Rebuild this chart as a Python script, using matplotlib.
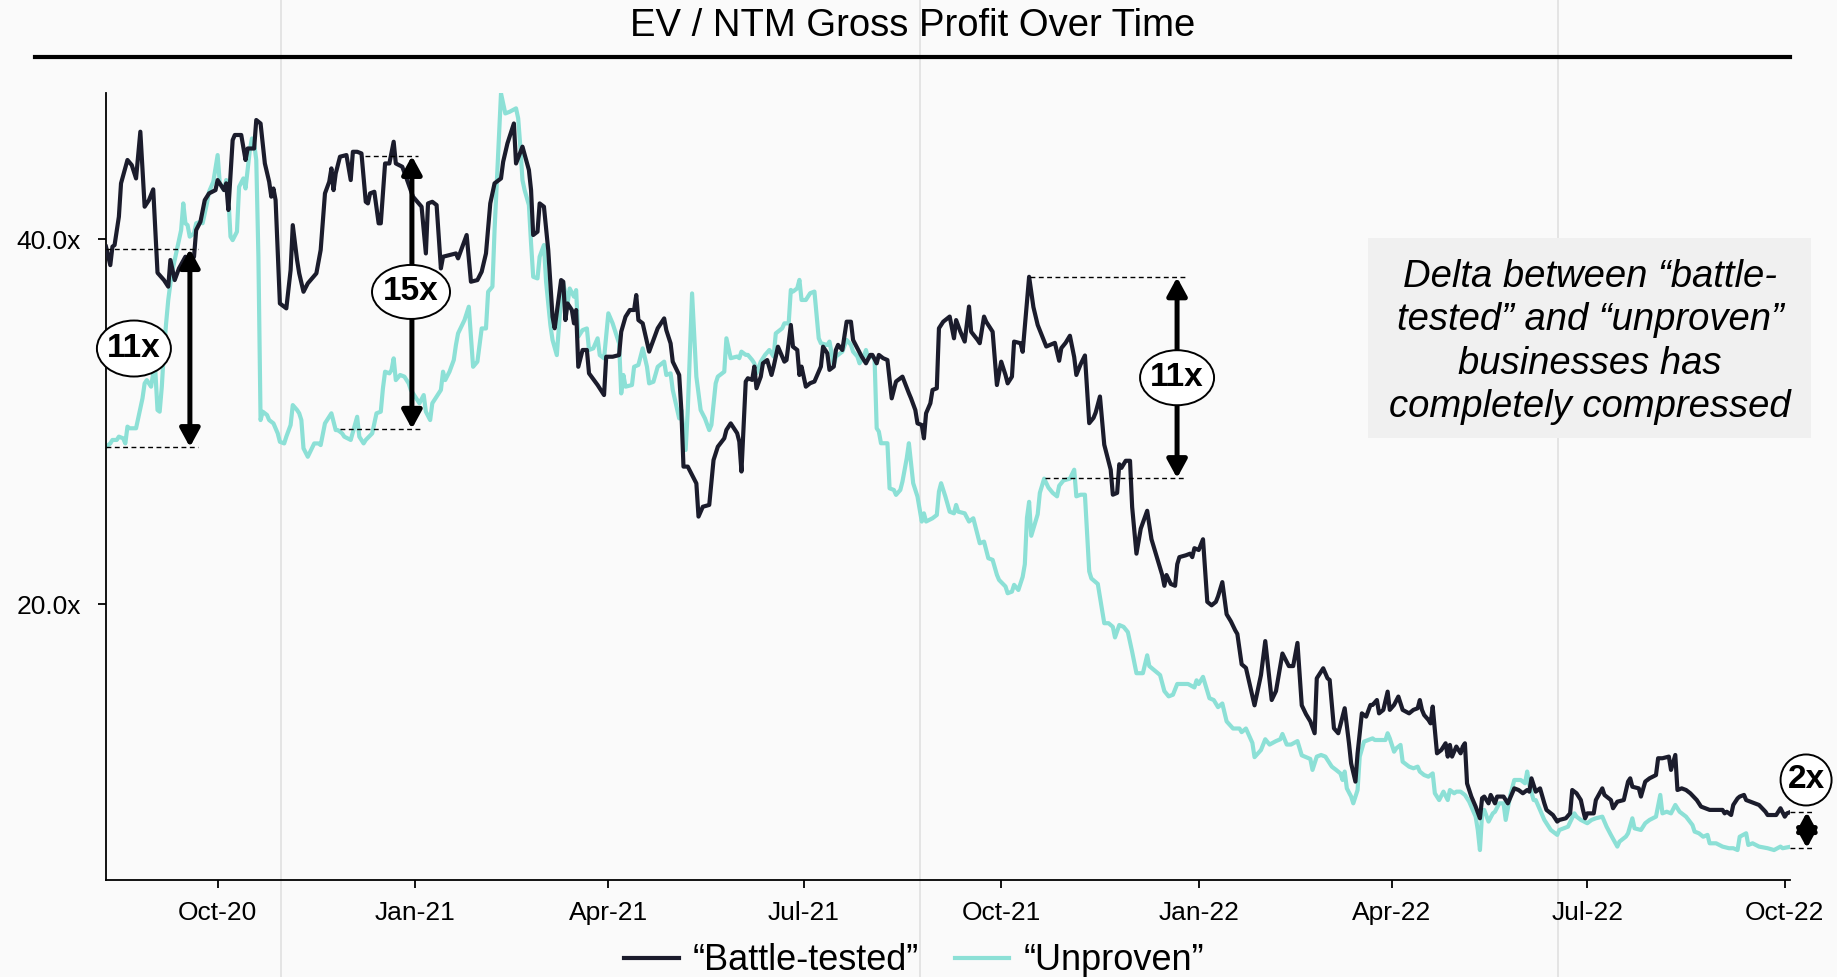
import matplotlib
matplotlib.use('Agg')
import matplotlib.pyplot as plt
import matplotlib.dates as mdates
import matplotlib.transforms as mtransforms
from matplotlib.lines import Line2D
from matplotlib.patches import Ellipse, Rectangle
from matplotlib.ticker import FuncFormatter
import numpy as np

plt.rcParams['font.family'] = ['Liberation Sans', 'DejaVu Sans']

# day offsets are counted from this date
start_date = np.datetime64('2020-08-10')

battle_days = [0, 2, 3, 4, 6, 7, 10, 12, 14, 16, 18, 20, 22, 24, 27, 29, 30, 32, 34, 37, 39, 41, 42, 44, 46, 48, 51,
               52, 55, 56, 57, 59, 60, 63, 65, 66, 69, 70, 72, 74, 76, 77, 78, 79, 81, 84, 86, 87, 89, 90, 92, 94,
               98, 100, 102, 104, 105, 106, 107, 109, 112, 114, 115, 117, 119, 121, 122, 123, 125, 127, 128, 130,
               132, 134, 135, 138, 140, 143, 147, 149, 150, 152, 154, 156, 157, 160, 163, 164, 168, 170, 173, 175,
               177, 179, 181, 184, 185, 187, 190, 191, 194, 197, 198, 199, 201, 202, 204, 206, 208, 209, 212, 213,
               214, 215, 217, 218, 219, 220, 222, 224, 225, 229, 232, 233, 236, 239, 240, 242, 244, 246, 247, 248,
               250, 253, 255, 257, 260, 261, 263, 264, 267, 268, 269, 271, 273, 275, 276, 278, 281, 283, 285, 288,
               289, 291, 294, 295, 296, 298, 299, 301, 302, 303, 305, 306, 308, 310, 311, 313, 316, 317, 319, 320,
               322, 323, 324, 326, 328, 330, 333, 334, 336, 337, 339, 340, 341, 343, 345, 347, 348, 350, 352, 354,
               356, 357, 359, 360, 362, 364, 366, 368, 371, 374, 375, 377, 378, 380, 381, 382, 384, 385, 387, 388,
               390, 393, 395, 396, 398, 400, 402, 403, 406, 407, 409, 410, 413, 415, 417, 419, 420, 422, 423, 426,
               427, 430, 432, 434, 436, 438, 440, 442, 444, 445, 447, 449, 451, 452, 454, 456, 458, 460, 461, 463,
               465, 468, 469, 471, 472, 473, 475, 477, 478, 480, 482, 485, 487, 489, 491, 492, 493, 494, 496, 498,
               499, 500, 503, 505, 506, 507, 509, 511, 513, 515, 517, 518, 520, 522, 524, 526, 527, 529, 531, 535,
               538, 540, 543, 545, 548, 551, 553, 555, 557, 559, 561, 563, 564, 567, 569, 570, 572, 574, 577, 579,
               580, 582, 583, 585, 587, 589, 590, 592, 593, 595, 597, 598, 600, 602, 604, 607, 609, 611, 612, 613,
               614, 616, 617, 618, 620, 622, 624, 625, 626, 627, 629, 631, 632, 633, 634, 636, 638, 640, 641, 642,
               644, 645, 647, 648, 651, 653, 656, 658, 660, 662, 663, 664, 666, 668, 670, 671, 674, 676, 677, 680,
               682, 683, 685, 687, 688, 689, 690, 693, 694, 697, 698, 701, 702, 704, 707, 709, 710, 711, 714, 715,
               717, 719, 722, 723, 725, 728, 729, 731, 732, 734, 736, 738, 741, 743, 745, 747, 750, 753, 754, 755,
               757, 758, 760, 761, 763, 764, 766, 768, 770, 773, 774, 777, 778, 780, 782, 783, 785]
battle_vals = [39.58, 38.57, 39.58, 39.67, 41.22, 43.05, 44.33, 44.05, 43.32, 45.88, 41.77, 42.13, 42.72, 38.15,
               37.75, 37.39, 38.85, 37.75, 38.39, 39.03, 38.66, 39.03, 40.49, 40.95, 42.13, 42.50, 42.68, 43.23,
               42.68, 43.05, 41.59, 45.42, 45.70, 45.70, 44.33, 44.96, 44.96, 46.52, 46.33, 44.14, 43.14, 42.32,
               42.77, 42.13, 36.47, 36.20, 38.30, 40.76, 38.85, 38.12, 37.11, 37.57, 38.12, 39.40, 42.50, 43.14,
               43.87, 42.68, 43.59, 44.51, 44.60, 43.23, 44.78, 44.78, 44.69, 42.04, 41.95, 42.50, 42.59, 40.86,
               40.86, 44.14, 44.14, 45.33, 44.14, 43.96, 43.32, 42.32, 41.77, 39.21, 41.95, 42.04, 41.86, 38.39,
               39.03, 39.12, 39.21, 38.94, 40.22, 37.66, 37.75, 38.21, 39.21, 41.95, 43.05, 43.32, 44.23, 45.24,
               46.33, 44.14, 45.06, 43.78, 42.68, 40.22, 40.40, 41.95, 41.77, 39.40, 35.74, 35.11, 37.75, 37.66,
               35.56, 36.47, 36.11, 35.38, 36.11, 33.00, 33.92, 33.92, 32.64, 32.00, 31.45, 33.55, 33.55, 33.64,
               34.92, 35.74, 36.11, 36.11, 36.93, 35.56, 35.38, 33.83, 34.47, 35.11, 35.65, 35.01, 34.28, 33.28,
               32.55, 30.63, 27.53, 27.53, 27.07, 26.61, 24.79, 25.33, 25.43, 27.89, 28.62, 29.08, 29.54, 29.90,
               29.36, 28.90, 27.26, 32.19, 32.37, 32.28, 33.01, 31.82, 32.46, 33.19, 33.37, 32.55, 33.01, 34.10,
               33.28, 33.37, 35.29, 34.10, 33.92, 32.55, 33.01, 31.91, 32.10, 32.19, 33.01, 34.10, 33.74, 32.83,
               33.01, 33.92, 34.20, 33.92, 35.47, 35.47, 34.47, 34.01, 33.56, 33.19, 33.65, 33.65, 33.19, 33.65,
               33.47, 33.37, 31.27, 32.19, 32.46, 31.55, 31.27, 30.63, 29.90, 29.81, 29.08, 30.45, 31.00, 31.73,
               31.82, 35.11, 35.47, 35.75, 34.56, 35.56, 34.92, 34.38, 36.30, 34.92, 34.47, 34.29, 35.75, 35.47,
               34.92, 32.00, 33.28, 32.55, 32.09, 32.46, 34.38, 34.29, 33.82, 37.93, 36.27, 35.29, 34.70, 34.11,
               34.21, 34.31, 33.33, 34.02, 34.31, 34.70, 33.53, 32.55, 33.14, 33.62, 29.91, 30.20, 30.49, 31.37,
               28.73, 27.36, 25.99, 26.09, 27.66, 27.46, 27.85, 27.85, 25.31, 22.76, 24.13, 25.11, 23.55, 22.76,
               21.98, 21.59, 21.00, 21.59, 21.10, 21.00, 22.18, 22.57, 22.67, 22.76, 22.57, 23.06, 22.96, 23.55,
               20.12, 19.93, 20.12, 20.42, 21.20, 19.44, 19.05, 18.56, 18.36, 16.70, 16.50, 14.45, 16.11, 17.97,
               14.74, 15.23, 17.29, 16.60, 16.60, 17.87, 14.45, 13.96, 13.57, 12.92, 15.93, 16.48, 15.93, 15.84,
               13.19, 12.92, 14.29, 12.37, 11.27, 10.27, 11.82, 14.01, 13.83, 14.47, 14.47, 14.74, 14.01, 14.20,
               15.20, 14.20, 14.47, 14.93, 14.20, 14.01, 14.20, 14.29, 14.74, 14.20, 13.92, 13.65, 13.46, 14.38,
               11.82, 12.00, 12.37, 11.64, 12.28, 11.64, 12.19, 11.82, 12.19, 12.37, 10.17, 9.45, 8.90, 8.26, 9.36,
               9.45, 9.08, 9.54, 9.08, 9.45, 9.45, 9.08, 9.90, 9.81, 9.63, 9.81, 9.72, 10.45, 9.72, 9.90, 9.08,
               8.72, 8.44, 8.08, 8.17, 8.26, 8.53, 9.81, 9.63, 9.26, 8.72, 8.26, 8.53, 8.53, 9.26, 9.90, 9.54, 9.26,
               8.81, 9.17, 9.26, 10.27, 10.45, 9.99, 9.90, 9.45, 10.27, 10.45, 10.63, 11.55, 11.55, 11.64, 10.91,
               11.73, 9.81, 9.90, 9.81, 9.63, 9.26, 8.90, 8.81, 8.72, 8.72, 8.72, 8.53, 8.62, 8.44, 8.99, 9.35,
               9.45, 9.54, 9.26, 9.17, 9.08, 8.99, 8.62, 8.44, 8.44, 8.44, 8.81, 8.35, 8.53, 8.62]

unproven_days = [0, 2, 3, 5, 6, 8, 9, 10, 11, 14, 15, 17, 18, 19, 21, 22, 23, 24, 25, 26, 27, 28, 29, 30, 31, 33, 35,
                 36, 37, 38, 39, 41, 42, 44, 45, 47, 48, 50, 51, 52, 53, 55, 56, 57, 58, 59, 61, 62, 64, 65, 67, 68,
                 69, 70, 71, 72, 73, 75, 76, 78, 80, 81, 83, 84, 86, 87, 89, 90, 91, 92, 94, 97, 99, 100, 102, 104,
                 105, 107, 108, 110, 111, 114, 117, 118, 120, 121, 124, 126, 128, 129, 130, 132, 133, 134, 135, 137,
                 139, 141, 142, 144, 146, 148, 149, 151, 152, 154, 156, 157, 158, 160, 162, 163, 164, 167, 169, 171,
                 173, 175, 177, 178, 180, 181, 183, 184, 186, 188, 191, 192, 193, 194, 195, 197, 198, 199, 201, 202,
                 204, 205, 207, 208, 210, 212, 213, 215, 216, 218, 219, 220, 222, 224, 225, 227, 229, 230, 232, 234,
                 236, 239, 240, 241, 242, 245, 246, 248, 250, 252, 253, 255, 257, 260, 261, 263, 264, 267, 268, 270,
                 271, 273, 275, 277, 279, 281, 282, 284, 285, 288, 289, 291, 294, 295, 296, 298, 299, 301, 302, 303,
                 305, 307, 309, 311, 312, 315, 316, 318, 319, 320, 322, 323, 324, 326, 328, 330, 332, 333, 336, 337,
                 339, 340, 342, 343, 345, 347, 348, 350, 351, 353, 354, 355, 357, 358, 359, 360, 361, 364, 365, 367,
                 368, 370, 371, 373, 374, 376, 378, 380, 381, 382, 385, 387, 388, 389, 391, 393, 395, 396, 397, 400,
                 402, 404, 407, 409, 411, 413, 415, 416, 419, 420, 422, 423, 425, 427, 428, 429, 430, 431, 434, 435,
                 437, 439, 441, 443, 444, 446, 449, 451, 452, 454, 456, 458, 459, 462, 465, 467, 469, 470, 472, 474,
                 476, 478, 480, 483, 485, 486, 489, 491, 493, 495, 497, 499, 501, 504, 507, 508, 509, 511, 514, 516,
                 518, 520, 522, 525, 528, 529, 531, 534, 535, 538, 540, 542, 545, 547, 548, 550, 552, 555, 557, 561,
                 562, 564, 566, 568, 569, 571, 573, 575, 576, 577, 578, 580, 581, 583, 584, 586, 588, 590, 591, 593,
                 596, 597, 598, 600, 601, 603, 604, 607, 609, 611, 612, 614, 616, 618, 619, 621, 623, 625, 626, 628,
                 629, 631, 633, 635, 636, 638, 639, 640, 641, 642, 644, 646, 647, 649, 651, 652, 654, 656, 659, 661,
                 662, 663, 665, 666, 668, 670, 673, 674, 676, 677, 681, 684, 685, 687, 690, 692, 694, 697, 699, 701,
                 704, 705, 708, 709, 711, 712, 715, 717, 719, 722, 724, 725, 727, 729, 731, 733, 736, 739, 740, 742,
                 744, 746, 747, 750, 753, 756, 758, 760, 761, 764, 765, 767, 770, 774, 777, 780, 781, 785]
unproven_vals = [28.62, 28.80, 28.99, 28.99, 29.17, 29.08, 28.80, 29.72, 29.63, 29.63, 30.17, 31.27, 32.09, 32.27,
                 31.91, 32.64, 32.73, 30.63, 30.54, 31.91, 33.92, 35.38, 36.66, 37.57, 38.30, 39.40, 40.49, 41.95,
                 40.86, 40.76, 40.13, 40.31, 40.86, 40.95, 40.86, 41.95, 42.59, 43.14, 43.87, 44.60, 43.05, 42.68,
                 43.23, 42.32, 40.13, 39.94, 40.40, 42.86, 43.32, 42.77, 44.87, 45.51, 45.24, 44.33, 39.03, 30.08,
                 30.54, 30.36, 30.08, 29.90, 29.35, 28.89, 28.80, 29.17, 29.81, 30.90, 30.63, 30.45, 30.08, 28.53,
                 28.07, 28.80, 28.80, 28.71, 29.90, 30.26, 30.45, 29.53, 29.53, 29.35, 29.17, 28.99, 30.26, 29.17,
                 28.80, 28.99, 29.35, 30.45, 30.54, 31.82, 32.73, 32.64, 32.82, 33.46, 32.27, 32.55, 32.46, 32.09,
                 31.73, 31.36, 31.00, 31.45, 30.54, 30.08, 31.00, 31.36, 31.73, 32.73, 32.27, 32.73, 33.37, 34.19,
                 34.83, 35.56, 36.29, 33.00, 33.28, 35.10, 35.10, 37.11, 37.39, 40.49, 45.42, 47.98, 46.88, 46.97,
                 47.16, 46.61, 45.06, 43.23, 42.68, 41.86, 39.76, 37.93, 37.84, 39.03, 39.67, 37.66, 35.29, 34.47,
                 33.64, 36.84, 37.57, 36.47, 37.29, 36.84, 37.20, 34.65, 35.01, 35.10, 33.92, 34.01, 34.56, 33.64,
                 33.46, 35.93, 35.38, 34.28, 31.54, 32.55, 31.91, 32.00, 33.00, 33.10, 34.01, 33.00, 32.09, 32.18,
                 33.00, 33.28, 32.55, 32.64, 31.73, 30.17, 30.63, 28.44, 30.63, 37.02, 32.46, 30.63, 30.17, 29.53,
                 29.81, 32.09, 32.46, 32.73, 34.56, 33.47, 33.56, 33.47, 33.83, 33.65, 33.65, 33.37, 33.19, 32.64,
                 33.28, 33.65, 33.92, 33.56, 34.83, 35.11, 35.38, 35.38, 37.21, 37.12, 37.30, 37.76, 36.66, 36.66,
                 37.03, 37.12, 34.56, 34.29, 34.19, 34.38, 33.10, 33.56, 33.74, 33.83, 34.47, 34.20, 33.83, 33.56,
                 33.19, 33.56, 33.92, 33.47, 33.56, 33.47, 29.63, 29.45, 28.81, 28.81, 26.34, 26.25, 25.98, 26.25,
                 26.71, 27.99, 28.81, 26.62, 25.89, 24.52, 24.97, 24.52, 24.70, 24.88, 26.16, 26.62, 25.89, 25.06,
                 24.97, 25.43, 25.06, 24.97, 24.52, 24.70, 23.33, 23.42, 22.51, 22.42, 21.60, 21.32, 20.96, 20.59,
                 20.68, 21.05, 20.77, 21.49, 22.18, 24.72, 25.60, 23.74, 24.92, 26.09, 26.87, 26.38, 26.09, 25.90,
                 26.48, 26.77, 26.87, 27.36, 25.90, 25.99, 25.99, 21.79, 21.40, 21.10, 18.95, 18.95, 18.75, 18.17,
                 18.85, 18.75, 18.46, 17.38, 16.21, 16.21, 17.19, 16.60, 16.31, 16.11, 15.23, 14.94, 15.03, 15.62,
                 15.62, 15.62, 15.43, 15.82, 15.62, 16.01, 14.84, 14.74, 14.35, 14.55, 13.57, 13.18, 13.18, 12.98,
                 13.18, 12.39, 11.61, 12.00, 12.59, 12.30, 12.49, 12.59, 12.88, 12.30, 12.30, 12.49, 11.71, 11.51,
                 10.91, 11.64, 11.73, 11.64, 11.46, 11.09, 10.91, 10.72, 10.36, 10.82, 9.90, 9.45, 9.08, 9.81, 11.64,
                 12.46, 12.55, 12.64, 12.55, 12.55, 12.55, 12.92, 12.64, 11.91, 12.09, 12.28, 11.36, 11.09, 11.00,
                 11.09, 10.82, 10.63, 10.54, 10.72, 9.63, 9.26, 9.72, 9.26, 9.81, 9.63, 9.72, 9.72, 9.54, 9.17, 8.90,
                 8.35, 7.62, 6.52, 8.53, 8.72, 8.08, 8.53, 8.62, 9.08, 9.08, 8.17, 9.45, 10.36, 10.36, 10.18, 10.82,
                 10.09, 9.26, 9.26, 8.72, 8.17, 7.62, 7.53, 7.35, 7.62, 7.80, 8.53, 8.35, 8.17, 7.99, 8.17, 8.26, 8.35,
                 7.80, 7.35, 6.71, 6.98, 7.26, 7.44, 8.26, 7.71, 7.62, 7.99, 8.17, 8.35, 9.54, 8.53, 8.62, 8.53, 8.99,
                 8.62, 8.35, 7.89, 7.53, 7.44, 7.25, 7.35, 6.89, 6.89, 6.71, 6.62, 6.62, 6.52, 7.25, 7.44, 6.80, 6.89,
                 6.71, 6.62, 6.52, 6.71, 6.62, 6.71]

tick_dates = ['2020-10-01', '2021-01-01', '2021-04-01', '2021-07-01', '2021-10-01',
              '2022-01-01', '2022-04-01', '2022-07-01', '2022-10-01']
y_ticks = [20, 40]
series_labels = ['\u201cBattle-tested\u201d', '\u201cUnproven\u201d']
chart_title = 'EV / NTM Gross Profit Over Time'
note_text = ('Delta between \u201cbattle-\ntested\u201d and \u201cunproven\u201d\n'
             'businesses has\ncompletely compressed')

# gap markers: label, arrow day, top, bottom, top dash days, bottom dash days, label day/value
gap_labels = ['11x', '15x', '11x', '2x']
gap_arrow_day = [39.1, 142.5, 498.9, 792.3]
gap_top = [39.45, 44.55, 37.9, 8.6]
gap_bottom = [28.6, 29.6, 26.9, 6.63]
gap_top_dash = [(0, 42.9), (120.6, 145.3), (430.4, 502.6), (784.4, 796.0)]
gap_bottom_dash = [(0, 42.9), (109.0, 146.7), (437.4, 503.3), (784.4, 796.0)]
gap_label_pos = [(13.0, 34.0), (142.1, 37.1), (498.9, 32.4), (791.9, 10.36)]
gap_label_size = [(0.74, 0.56), (0.78, 0.54), (0.74, 0.55), (0.51, 0.51)]

BATTLE_COLOR = '#1b1c2c'
UNPROVEN_COLOR = '#8ce0d6'
BG = '#fafafa'


def to_dates(days):
    return start_date + np.array([int(round(d * 24)) for d in days]).astype('timedelta64[h]')


def draw_gap(ax, fig, i):
    x = to_dates([gap_arrow_day[i]])[0]
    ax.annotate('', xy=(x, gap_top[i]), xytext=(x, gap_bottom[i]),
                arrowprops=dict(arrowstyle='<|-|>,head_length=1.1,head_width=0.6', lw=3.6,
                                color='black', shrinkA=0, shrinkB=0, mutation_scale=10),
                annotation_clip=False, zorder=6)
    for span, y in ((gap_top_dash[i], gap_top[i]), (gap_bottom_dash[i], gap_bottom[i])):
        ax.plot(to_dates(span), [y, y], color='black', lw=1.0, ls=(0, (3.5, 2.5)),
                clip_on=False, zorder=5)

    lx = mdates.date2num(to_dates([gap_label_pos[i][0]])[0])
    ly = gap_label_pos[i][1]
    trans = fig.dpi_scale_trans + mtransforms.ScaledTranslation(lx, ly, ax.transData)
    w, h = gap_label_size[i]
    ax.add_patch(Ellipse((0, 0), w, h, transform=trans, facecolor='white', edgecolor='black',
                         lw=1.4, clip_on=False, zorder=7))
    ax.text(mdates.num2date(lx), ly, gap_labels[i], ha='center', va='center', fontsize=24,
            fontweight='bold', zorder=8, clip_on=False)


def multiple_chart():
    fig = plt.figure(figsize=(18.37, 9.77), dpi=100, facecolor=BG)
    ax = fig.add_axes([0.0577, 0.0993, 0.9167, 0.8055])
    ax.patch.set_visible(False)

    # faint slide guides behind everything
    for gx in [281, 920, 1558]:
        fig.add_artist(Line2D([gx / 1837, gx / 1837], [0, 1], transform=fig.transFigure,
                              color='#e4e4e4', lw=1.4, zorder=-5))

    l1, = ax.plot(to_dates(battle_days), battle_vals, color=BATTLE_COLOR, lw=3.0, zorder=3)
    l2, = ax.plot(to_dates(unproven_days), unproven_vals, color=UNPROVEN_COLOR, lw=3.0, zorder=2)

    ax.set_xlim(to_dates([0])[0], to_dates([784.4])[0])
    ax.set_ylim(4.88, 48.0)

    ax.set_xticks([np.datetime64(d) for d in tick_dates])
    ax.xaxis.set_major_formatter(mdates.DateFormatter('%b-%y'))
    ax.set_yticks(y_ticks)
    ax.yaxis.set_major_formatter(FuncFormatter(lambda v, p: f'{v:.1f}x'))

    for s in ['top', 'right']:
        ax.spines[s].set_visible(False)
    for s in ['left', 'bottom']:
        ax.spines[s].set_linewidth(1.3)
    ax.tick_params(axis='both', labelsize=19, length=6, width=1.3)
    ax.tick_params(axis='x', pad=9)
    ax.tick_params(axis='y', pad=12)

    for i in range(len(gap_labels)):
        draw_gap(ax, fig, i)

    # title and rule
    fig.text(913 / 1837, 1 - 26 / 977, chart_title, ha='center', va='center', fontsize=27.5)
    fig.add_artist(Line2D([35 / 1837, 1790 / 1837], [1 - 57 / 977, 1 - 57 / 977],
                          transform=fig.transFigure, color='black', lw=3))

    # note box
    fig.add_artist(Rectangle((1368 / 1837, 1 - 438 / 977), 443 / 1837, 200 / 977,
                             transform=fig.transFigure, facecolor='#f0f0f0', edgecolor='none', zorder=1))
    fig.text(1590 / 1837, 1 - 342 / 977, note_text, ha='center', va='center', fontsize=27.5,
             style='italic', linespacing=1.27, zorder=2)

    fig.legend([l1, l2], series_labels, loc='center', bbox_to_anchor=(0.4978, 1 - 961 / 977),
               ncol=2, frameon=False, fontsize=26, handlelength=1.5, handletextpad=0.4,
               columnspacing=1.0, borderaxespad=0, borderpad=0)

    plt.savefig('out.png', dpi=100, facecolor=BG)


if __name__ == '__main__':
    multiple_chart()
